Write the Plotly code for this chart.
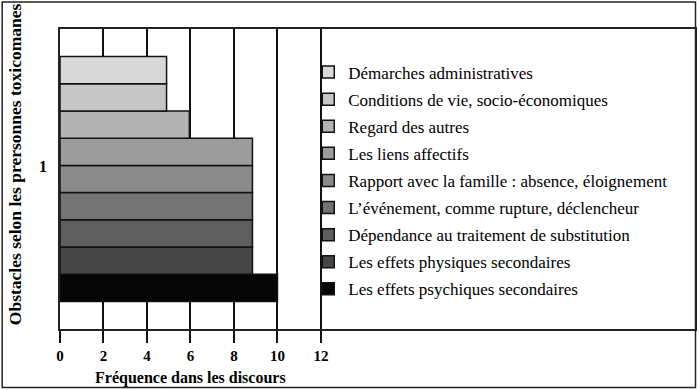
import plotly.graph_objects as go

# Data (top to bottom as displayed)
categories = [
    "Démarches administratives",
    "Conditions de vie, socio-économiques",
    "Regard des autres",
    "Les liens affectifs",
    "Rapport avec la famille : absence, éloignement",
    "L’événement, comme rupture, déclencheur",
    "Dépendance au traitement de substitution",
    "Les effets physiques secondaires",
    "Les effets psychiques secondaires",
]
values = [4.9, 4.9, 5.95, 8.85, 8.85, 8.85, 8.85, 8.85, 10]
colors = ["#d8d8d8", "#c6c6c6", "#b3b3b3", "#9c9c9c", "#8a8a8a",
          "#737373", "#5e5e5e", "#474747", "#050505"]
group_label = ["1"]
x_ticks = [0, 2, 4, 6, 8, 10, 12]
y_title = "Obstacles selon les prersonnes toxicomanes"
x_title = "Fréquence dans les discours"

FONT = "Liberation Serif, Times New Roman, Times, serif"

fig = go.Figure()
# add in reverse so the first category is drawn at the top
n = len(categories)
for i in range(n - 1, -1, -1):
    fig.add_trace(go.Bar(
        y=group_label, x=[values[i]], name=categories[i], orientation="h",
        legendgroup=f"g{i}", legendrank=i + 1,
        marker=dict(color=colors[i], line=dict(color="#111", width=1.5)),
    ))

fig.update_layout(
    width=700, height=390,
    margin=dict(l=60, r=3, t=29, b=61),
    paper_bgcolor="white", plot_bgcolor="white",
    barmode="group", bargap=0.183,
    font=dict(family=FONT, color="black", size=15),
    showlegend=True,
    legend=dict(
        x=0.391, y=0.915, xanchor="left", yanchor="top",
        traceorder="grouped", tracegroupgap=2,
        font=dict(family=FONT, size=17, color="black"),
        bgcolor="rgba(0,0,0,0)", borderwidth=0,
    ),
    xaxis=dict(
        range=[0, 29.2], tickvals=x_ticks, ticktext=[str(t) for t in x_ticks],
        showgrid=True, gridcolor="#111", gridwidth=1.5,
        showline=True, linecolor="#222", linewidth=1.5, mirror=True,
        ticks="outside", ticklen=12, tickwidth=1.5, tickcolor="#111",
        tickfont=dict(family=FONT, size=15, color="black", weight="bold"),
        zeroline=False, fixedrange=True,
    ),
    yaxis=dict(
        type="category", range=[-0.5, 0.5],
        showgrid=False, showline=True, linecolor="#222", linewidth=1.5, mirror=True,
        ticks="", ticklabelshift=-13, ticklabelstandoff=8,
        tickfont=dict(family=FONT, size=16, color="black", weight="bold"),
        zeroline=False, fixedrange=True,
    ),
    annotations=[
        dict(text=f"<b>{y_title}</b>", textangle=-90, xref="paper", yref="paper",
             x=(15 - 60) / 637, y=(329 - 164) / 300, xanchor="center", yanchor="middle",
             showarrow=False, font=dict(family=FONT, size=17.5, color="black")),
        dict(text=f"<b>{x_title}</b>", xref="paper", yref="paper",
             x=(191 - 60) / 637, y=(329 - 378) / 300, xanchor="center", yanchor="middle",
             showarrow=False, font=dict(family=FONT, size=16, color="black")),
    ],
    shapes=[
        dict(type="rect", xref="paper", yref="paper",
             x0=(2 - 60) / 637, x1=(697.5 - 60) / 637,
             y0=(329 - 387.5) / 300, y1=(329 - 2) / 300,
             line=dict(color="#222", width=1.5), fillcolor="rgba(0,0,0,0)", layer="above"),
    ],
)

fig.write_html("out.html")
